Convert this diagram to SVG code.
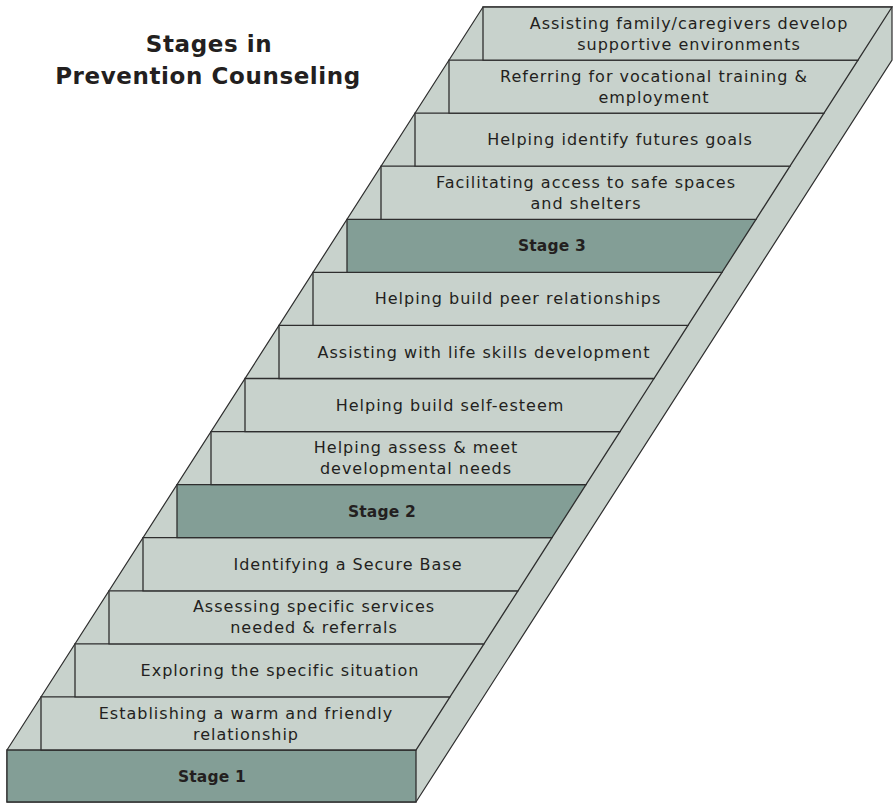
<svg xmlns="http://www.w3.org/2000/svg" width="894" height="804" viewBox="0 0 894 804">
<style>
.slab{fill:#c8d2cc;stroke:#2e2e2e;stroke-width:1.2;stroke-linejoin:miter}
.lt{fill:#c8d2cc;stroke:#2e2e2e;stroke-width:1.3}
.dk{fill:#839e96;stroke:#2e2e2e;stroke-width:1.3}
text{font-family:"DejaVu Sans","Noto Sans",sans-serif;font-size:16px;letter-spacing:1px;fill:#231f20;text-anchor:middle}
.b{font-weight:bold;font-size:15.5px;letter-spacing:0.2px}
.title{font-size:23px;font-weight:bold;letter-spacing:0.6px}
</style>
<rect width="894" height="804" fill="#ffffff"/>
<g id="title">
<text class="title" x="209" y="52">Stages in</text>
<text class="title" x="208" y="84">Prevention Counseling</text>
</g>
<g id="slab">
<polygon class="slab" points="7,750 483,7 892,7 892,60.1 416,802 7,802"/>
</g>
<g id="stage1"><polygon class="dk" points="7,750 416,750 416,802 7,802"/><text class="b" x="212" y="782">Stage 1</text></g>
<g id="step1"><polygon class="lt" points="41,696.9 450,696.9 416,750 41,750"/><text x="246" y="718.5">Establishing a warm and friendly</text><text x="246" y="739.5">relationship</text></g>
<g id="step2"><polygon class="lt" points="75,643.9 484,643.9 450,696.9 75,696.9"/><text x="280" y="676">Exploring the specific situation</text></g>
<g id="step3"><polygon class="lt" points="109,590.8 518,590.8 484,643.9 109,643.9"/><text x="314" y="612.3">Assessing specific services</text><text x="314" y="633.3">needed &amp; referrals</text></g>
<g id="step4"><polygon class="lt" points="143,537.7 552,537.7 518,590.8 143,590.8"/><text x="348" y="569.8">Identifying a Secure Base</text></g>
<g id="stage2"><polygon class="dk" points="177,484.6 586,484.6 552,537.7 177,537.7"/><text class="b" x="382" y="516.7">Stage 2</text></g>
<g id="step6"><polygon class="lt" points="211,431.6 620,431.6 586,484.6 211,484.6"/><text x="416" y="453.1">Helping assess &amp; meet</text><text x="416" y="474.1">developmental needs</text></g>
<g id="step7"><polygon class="lt" points="245,378.5 654,378.5 620,431.6 245,431.6"/><text x="450" y="410.5">Helping build self-esteem</text></g>
<g id="step8"><polygon class="lt" points="279,325.4 688,325.4 654,378.5 279,378.5"/><text x="484" y="357.5">Assisting with life skills development</text></g>
<g id="step9"><polygon class="lt" points="313,272.4 722,272.4 688,325.4 313,325.4"/><text x="518" y="304.4">Helping build peer relationships</text></g>
<g id="stage3"><polygon class="dk" points="347,219.3 756,219.3 722,272.4 347,272.4"/><text class="b" x="552" y="251.3">Stage 3</text></g>
<g id="step11"><polygon class="lt" points="381,166.2 790,166.2 756,219.3 381,219.3"/><text x="586" y="187.8">Facilitating access to safe spaces</text><text x="586" y="208.8">and shelters</text></g>
<g id="step12"><polygon class="lt" points="415,113.1 824,113.1 790,166.2 415,166.2"/><text x="620" y="145.2">Helping identify futures goals</text></g>
<g id="step13"><polygon class="lt" points="449,60.1 858,60.1 824,113.1 449,113.1"/><text x="654" y="81.6">Referring for vocational training &amp;</text><text x="654" y="102.6">employment</text></g>
<g id="step14"><polygon class="lt" points="483,7 892,7 858,60.1 483,60.1"/><text x="689" y="28.5">Assisting family/caregivers develop</text><text x="689" y="49.5">supportive environments</text></g>
</svg>
